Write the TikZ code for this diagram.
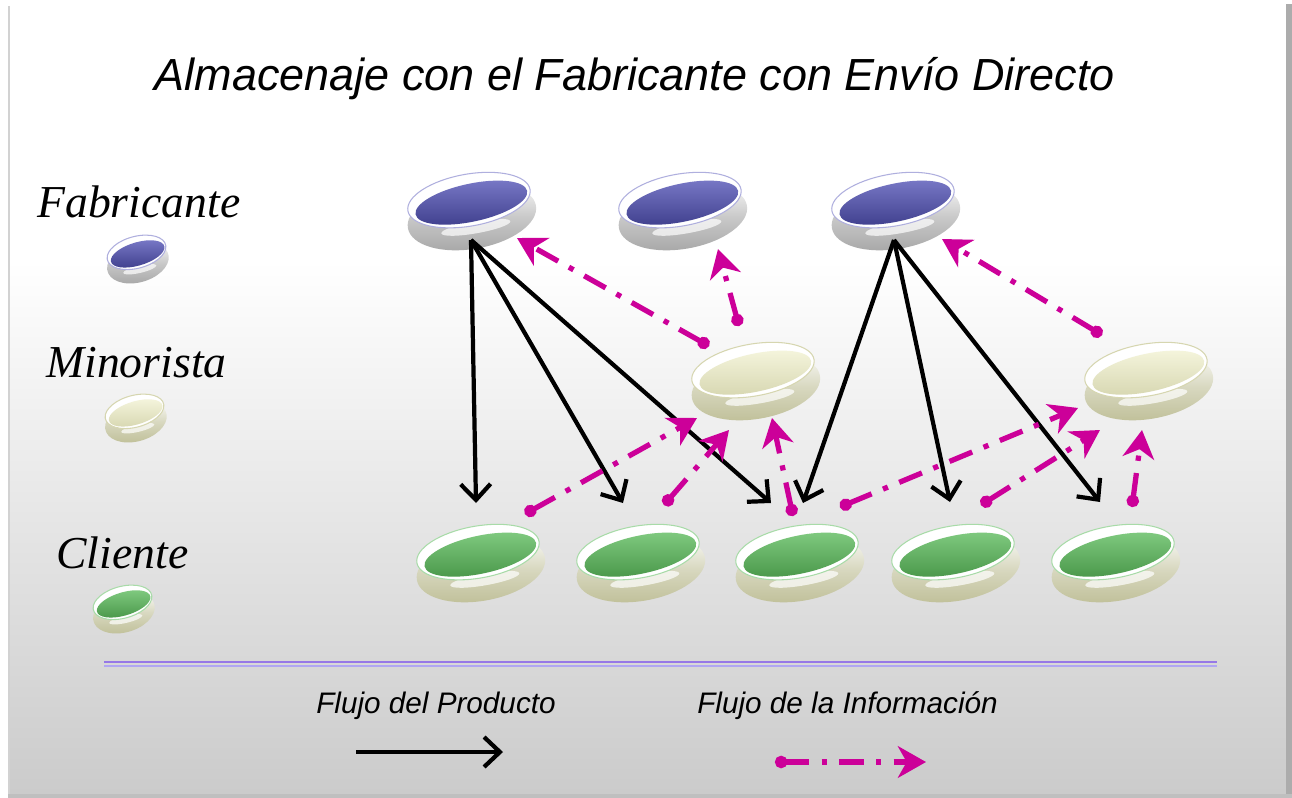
\documentclass[tikz,border=0pt]{standalone}
\usepackage{fontspec}
\setmainfont{Liberation Serif}
\setsansfont{Liberation Sans}
\usetikzlibrary{arrows.meta}
\definecolor{mag}{RGB}{204,0,153}
\definecolor{bgbot}{RGB}{203,203,203}
\definecolor{blueL}{RGB}{122,122,200}
\definecolor{blueD}{RGB}{62,62,140}
\definecolor{creamL}{RGB}{246,246,222}
\definecolor{creamD}{RGB}{214,214,176}
\definecolor{greenL}{RGB}{130,204,130}
\definecolor{greenD}{RGB}{72,150,72}
\definecolor{sideG}{RGB}{165,165,165}
\definecolor{sideC}{RGB}{190,190,150}
\definecolor{lineA}{RGB}{150,120,230}
\definecolor{lineB}{RGB}{176,166,242}
\tikzset{
  pics/disc/.style n args={4}{code={
    \shade[rotate=10, top color=white, bottom color=#3, middle color=#3!60] (0,11) ellipse [x radius=1.3cm, y radius=0.64cm];
    \fill[rotate=10, white, opacity=0.7] (2,22) ellipse [x radius=0.7cm, y radius=0.12cm];
    \fill[rotate=10, white] (0,-6) ellipse [x radius=1.24cm, y radius=0.52cm];
    \draw[rotate=10, #4, line width=0.6pt] (0,-6) ellipse [x radius=1.24cm, y radius=0.52cm];
    \shade[rotate=12, top color=#1, bottom color=#2] (2,-3) ellipse [x radius=1.14cm, y radius=0.38cm];
  }},
  prod/.style={line width=2.4pt, line join=round, -{Straight Barb[length=9pt,width=17pt,line width=2.4pt]}},
  info/.style={draw=mag, line width=3pt, dash pattern=on 14pt off 7pt on 3pt off 7pt,
    {Circle[length=7pt]}-{Stealth[length=16pt,width=18pt,inset=5pt]}},
  lbl/.style={font=\fontsize{26}{30}\selectfont\itshape, anchor=base west, inner sep=0pt},
  leg/.style={font=\sffamily\itshape\fontsize{16.9}{20}\selectfont, anchor=base west, inner sep=0pt}
}
\begin{document}
\begin{tikzpicture}[x=0.02cm,y=-0.02cm]
\useasboundingbox (0,0) rectangle (1292,798);
% background panel
\fill[white] (0,0) rectangle (1292,798);
\fill[white] (8,4) rectangle (1286,261);
\shade[top color=white,bottom color=bgbot] (8,260) rectangle (1286,794);
\fill[gray!65] (1286,4) rectangle (1292,798);
\fill[gray!50] (8,794) rectangle (1292,798);
\draw[gray!35, line width=1.2pt] (9,6) -- (9,794);

% title
\node[font=\sffamily\itshape\fontsize{25.6}{30}\selectfont, anchor=base, inner sep=0pt] (title) at (635,90) {Almacenaje con el Fabricante con Envío Directo};

% row labels
\node[lbl] (lF) at (37,217) {Fabricante};
\node[lbl] (lM) at (46,377) {Minorista};
\node[lbl] (lC) at (56,568) {Cliente};

% small icons
\pic[xscale=0.48, yscale=0.62] (iF) at (137,256) {disc={blueL}{blueD}{sideG}{blueL!60}};
\pic[xscale=0.48, yscale=0.62] (iM) at (135,415) {disc={creamL}{creamD}{sideC}{creamD}};
\pic[xscale=0.48, yscale=0.62] (iC) at (123,606) {disc={greenL}{greenD}{sideC}{greenL!70}};

% discs
\pic (F1) at (470,206) {disc={blueL}{blueD}{sideG}{blueL!60}};
\pic (F2) at (681,206) {disc={blueL}{blueD}{sideG}{blueL!60}};
\pic (F3) at (894,206) {disc={blueL}{blueD}{sideG}{blueL!60}};
\pic (M1) at (754,376) {disc={creamL}{creamD}{sideC}{creamD}};
\pic (M2) at (1147,376) {disc={creamL}{creamD}{sideC}{creamD}};
\pic (C1) at (479,558) {disc={greenL}{greenD}{sideC}{greenL!70}};
\pic (C2) at (639,558) {disc={greenL}{greenD}{sideC}{greenL!70}};
\pic (C3) at (798,558) {disc={greenL}{greenD}{sideC}{greenL!70}};
\pic (C4) at (954,558) {disc={greenL}{greenD}{sideC}{greenL!70}};
\pic (C5) at (1114,558) {disc={greenL}{greenD}{sideC}{greenL!70}};

% product flow anchors
\coordinate (F1b) at (471,240);
\coordinate (F3b) at (894,240);
\coordinate (C1t) at (476,503);
\coordinate (C2t) at (623,503);
\coordinate (C3a) at (771,503);
\coordinate (C3b) at (803,503);
\coordinate (C4t) at (950,502);
\coordinate (C5t) at (1100,502);
\draw[prod] (F1b) -- (C1t);
\draw[prod] (F1b) -- (C2t);
\draw[prod] (F1b) -- (C3a);
\draw[prod] (F3b) -- (C3b);
\draw[prod] (F3b) -- (C4t);
\draw[prod] (F3b) -- (C5t);

% information flow anchors
\coordinate (M1s1) at (709,346);
\coordinate (F1i) at (517,238);
\coordinate (M1s2) at (739,326);
\coordinate (F2i) at (718,249);
\coordinate (M2s) at (1102,335);
\coordinate (F3i) at (942,239);
\coordinate (C1s) at (525,514);
\coordinate (M1i1) at (697,418);
\coordinate (C2s) at (664,505);
\coordinate (M1i2) at (729,430);
\coordinate (C3s1) at (793,516);
\coordinate (M1i3) at (772,418);
\coordinate (C3s2) at (840,507);
\coordinate (M2i1) at (1078,408);
\coordinate (C4s) at (981,505);
\coordinate (M2i2) at (1100,430);
\coordinate (C5s) at (1132,507);
\coordinate (M2i3) at (1142,430);
\draw[info] (M1s1) -- (F1i);
\draw[info] (M1s2) -- (F2i);
\draw[info] (M2s) -- (F3i);
\draw[info] (C1s) -- (M1i1);
\draw[info] (C2s) -- (M1i2);
\draw[info] (C3s1) -- (M1i3);
\draw[info] (C3s2) -- (M2i1);
\draw[info] (C4s) -- (M2i2);
\draw[info] (C5s) -- (M2i3);

% legend
\draw[lineA, line width=1.3pt] (104,662) -- (1217,662);
\draw[lineB, line width=1.2pt] (104,666) -- (1217,666);
\node[leg] (lp) at (316,713) {Flujo del Producto};
\node[leg] (li) at (697,713) {Flujo de la Información};
\coordinate (lpa) at (356,752);
\coordinate (lpb) at (503,752);
\draw[prod] (lpa) -- (lpb);
\coordinate (lia) at (775,762);
\coordinate (lib) at (926,762);
\draw[info] (lia) -- (lib);
\end{tikzpicture}
\end{document}
